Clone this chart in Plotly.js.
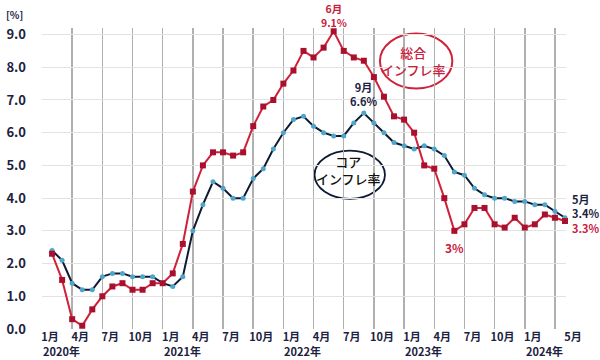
<!DOCTYPE html>
<html><head><meta charset="utf-8">
<script src="https://cdn.plot.ly/plotly-3.0.1.min.js"></script>
<style>body{margin:0;background:#fff}#chart{width:600px;height:360px}</style>
</head><body><div id="chart"></div>
<script>
// month index: 0 = Jan 2020; data start Feb 2020 (index 1) to May 2024 (index 52)
const monthIdx = Array.from({length: 52}, (_, i) => i + 1);
const headline = [2.3,1.5,0.3,0.1,0.6,1.0,1.3,1.4,1.2,1.2,1.4,
  1.4,1.7,2.6,4.2,5.0,5.4,5.4,5.3,5.4,6.2,6.8,7.0,
  7.5,7.9,8.5,8.3,8.6,9.1,8.5,8.3,8.2,7.7,7.1,6.5,
  6.4,6.0,5.0,4.9,4.0,3.0,3.2,3.7,3.7,3.2,3.1,3.4,
  3.1,3.2,3.5,3.4,3.3];
const core = [2.4,2.1,1.4,1.2,1.2,1.6,1.7,1.7,1.6,1.6,1.6,
  1.4,1.3,1.6,3.0,3.8,4.5,4.3,4.0,4.0,4.6,4.9,5.5,
  6.0,6.4,6.5,6.2,6.0,5.9,5.9,6.3,6.6,6.3,6.0,5.7,
  5.6,5.5,5.6,5.5,5.3,4.8,4.7,4.3,4.1,4.0,4.0,3.9,
  3.9,3.8,3.8,3.6,3.4];
const gridIdx = [0,3,6,9,12,15,18,21,24,27,30,33,36,39,42,45,48,51];
const labelIdx = [0,3,6,9,12,15,18,21,24,27,30,33,36,39,42,45,48,52];
const monthLabels = ['1月','4月','7月','10月','1月','4月','7月','10月','1月','4月','7月','10月','1月','4月','7月','10月','1月','5月'];
const yearIdx = [0,12,24,36,48];
const yearLabels = ['2020年','2021年','2022年','2023年','2024年'];
const yTicks = [0,1,2,3,4,5,6,7,8,9];
const yTickText = ['0.0','1.0','2.0','3.0','4.0','5.0','6.0','7.0','8.0','9.0'];

const FONT = '"Noto Sans CJK JP", "Noto Sans", sans-serif';
const NAVY = '#1b2240';
const RED = '#c8203c';

const traces = [
  {x: monthIdx, y: core, type: 'scatter', mode: 'lines+markers', cliponaxis: false,
   line: {color: '#0e1a33', width: 2}, marker: {symbol: 'circle', size: 5, color: '#4fa6c9'}, hoverinfo: 'skip'},
  {x: monthIdx, y: headline, type: 'scatter', mode: 'lines+markers', cliponaxis: false,
   line: {color: '#d0213a', width: 2}, marker: {symbol: 'square', size: 6, color: '#a8102e'}, hoverinfo: 'skip'},
  {x: [0], y: [0], xaxis: 'x2', type: 'scatter', mode: 'markers', marker: {opacity: 0}, hoverinfo: 'skip'}
];

const annotations = [];
yearIdx.forEach((v, i) => annotations.push({x: v, xref: 'x', y: 0, yref: 'paper', yshift: -31, xanchor: 'left', yanchor: 'bottom',
  borderpad: 0, text: yearLabels[i], showarrow: false, font: {family: FONT, size: 11, color: NAVY, weight: 'bold'}}));
annotations.push({x: 0, xref: 'paper', xanchor: 'left', y: 1, yref: 'paper', yanchor: 'bottom', yshift: 4, xshift: -38,
  text: '[%]', showarrow: false, font: {family: FONT, size: 10, color: NAVY, weight: 'bold'}});
annotations.push({x: 29, y: 9.1, xref: 'x', yref: 'y', yanchor: 'bottom', yshift: 0, borderpad: 0, showarrow: false,
  text: '6月<br>9.1%', font: {family: FONT, size: 10.5, color: RED, weight: 'bold'}});
annotations.push({x: 32, y: 6.6, xref: 'x', yref: 'y', yanchor: 'bottom', yshift: 3, borderpad: 0, showarrow: false,
  text: '9月<br>6.6%', font: {family: FONT, size: 11, color: NAVY, weight: 'bold'}});
annotations.push({x: 41, y: 3.0, xref: 'x', yref: 'y', yanchor: 'top', yshift: -6, showarrow: false,
  text: '3%', font: {family: FONT, size: 12, color: RED, weight: 'bold'}});
annotations.push({x: 52, y: 3.4, xref: 'x', yref: 'y', xanchor: 'left', align: 'left', xshift: 5, yshift: 4, showarrow: false,
  text: '5月<br>3.4%<br><span style="color:' + RED + '">3.3%</span>', font: {family: FONT, size: 11, color: NAVY, weight: 'bold'}});
annotations.push({x: 36.9, y: 8.19, xref: 'x', yref: 'y', showarrow: false,
  text: '総合<br>インフレ率', font: {family: FONT, size: 13, color: RED, weight: 500}});
annotations.push({x: 30.5, y: 4.87, xref: 'x', yref: 'y', showarrow: false,
  text: 'コア<br>インフレ率', font: {family: FONT, size: 13, color: '#111', weight: 500}});

const shapes = [
  {type: 'circle', xref: 'x', yref: 'y', x0: 33.6, x1: 40.8, y0: 7.35, y1: 9.03, line: {color: '#d0213a', width: 2}, fillcolor: 'rgba(255,255,255,0.9)', layer: 'below'},
  {type: 'circle', xref: 'x', yref: 'y', x0: 27.1, x1: 34.1, y0: 3.98, y1: 5.45, line: {color: '#0e1a33', width: 1.8}, fillcolor: 'rgba(255,255,255,0.9)', layer: 'below'}
];

const layout = {
  width: 600, height: 360,
  margin: {l: 42, r: 34, t: 28, b: 31},
  paper_bgcolor: '#fff', plot_bgcolor: '#fff',
  showlegend: false,
  xaxis: {range: [0, 52.1], tickvals: gridIdx, showticklabels: false, showgrid: true,
    gridcolor: '#b0b0b0', gridwidth: 1.5, zeroline: false, showline: false, ticks: '', fixedrange: true},
  xaxis2: {range: [0, 52.1], overlaying: 'x', anchor: 'y', side: 'bottom', tickvals: labelIdx, ticktext: monthLabels,
    showgrid: false, zeroline: false, showline: false, ticks: '', ticklabelshift: 8, ticklabelstandoff: 0,
    tickfont: {family: FONT, size: 11, color: NAVY, weight: 'bold'}},
  yaxis: {range: [0, 9.2], tickvals: yTicks, ticktext: yTickText, showgrid: true, gridcolor: '#e2e2e2', gridwidth: 1,
    zeroline: false, showline: false, ticks: '', ticklabelstandoff: 15,
    tickfont: {family: FONT, size: 13, color: NAVY, weight: 'bold'}},
  annotations: annotations,
  shapes: shapes
};
Plotly.newPlot('chart', traces, layout, {staticPlot: true});
</script></body></html>
